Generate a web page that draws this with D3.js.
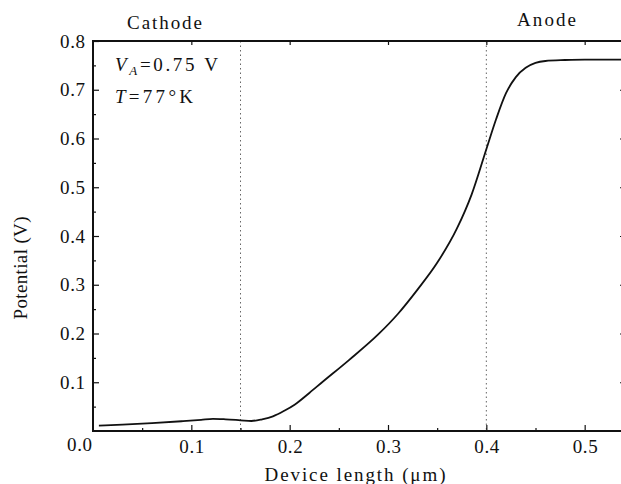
<!DOCTYPE html>
<html>
<head>
<meta charset="utf-8">
<script src="https://cdn.jsdelivr.net/npm/d3@7"></script>
<style>
  html, body { margin: 0; padding: 0; background: #fff; }
  svg { display: block; }
</style>
</head>
<body>
<div id="chart"></div>
<script>
// Potential along the device
const lengthUm = [0.006, 0.03, 0.06, 0.09, 0.11, 0.122, 0.135, 0.15, 0.161, 0.172, 0.183, 0.195, 0.205, 0.22, 0.233, 0.26, 0.29, 0.31, 0.33, 0.35, 0.37, 0.385, 0.40, 0.41, 0.42, 0.43, 0.44, 0.45, 0.46, 0.48, 0.50, 0.54];
const potentialV = [0.011, 0.013, 0.016, 0.020, 0.023, 0.025, 0.024, 0.022, 0.0205, 0.024, 0.030, 0.042, 0.054, 0.078, 0.100, 0.145, 0.198, 0.240, 0.290, 0.345, 0.415, 0.485, 0.578, 0.640, 0.693, 0.726, 0.745, 0.755, 0.759, 0.761, 0.762, 0.762];

const xTicks = [0.1, 0.2, 0.3, 0.4, 0.5];
const xMinor = [0.05, 0.15, 0.25, 0.35, 0.45];
const yTicks = [0.1, 0.2, 0.3, 0.4, 0.5, 0.6, 0.7, 0.8];
const yMinor = [0.05, 0.15, 0.25, 0.35, 0.45, 0.55, 0.65, 0.75];
const boundaries = [0.15, 0.4];   // cathode / anode edges

const W = 621, H = 484;
const mLeft = 93, mRight = 624, mTop = 41, mBottom = 431;

// pick an installed serif face (plain "serif" may fall back to a sans)
function pickFont(list) {
  const ctx = document.createElement("canvas").getContext("2d");
  const probe = "abcdefghijklmnopqrstuvwxyz0123456789";
  ctx.font = "40px monospace";
  const mono = ctx.measureText(probe).width;
  ctx.font = "40px sans-serif";
  const sans = ctx.measureText(probe).width;
  for (const f of list) {
    ctx.font = `40px "${f}", monospace`;
    const a = ctx.measureText(probe).width;
    ctx.font = `40px "${f}", sans-serif`;
    const b = ctx.measureText(probe).width;
    if (a !== mono || b !== sans) return `"${f}"`;
  }
  return "serif";
}
const serif = pickFont(["Liberation Serif", "Times New Roman", "DejaVu Serif", "Noto Serif", "FreeSerif", "Tinos"]);

const x = d3.scaleLinear().domain([0, 0.54]).range([mLeft, mRight]);
const y = d3.scaleLinear().domain([0, 0.8]).range([mBottom, mTop]);

const svg = d3.select("#chart").append("svg")
  .attr("width", W)
  .attr("height", H)
  .style("font-family", serif);

svg.append("rect").attr("width", W).attr("height", H).attr("fill", "#fff");

// dotted region boundaries
svg.selectAll(".bound")
  .data(boundaries)
  .join("line")
  .attr("x1", d => x(d)).attr("x2", d => x(d))
  .attr("y1", mTop).attr("y2", mBottom)
  .attr("stroke", "#666")
  .attr("stroke-width", 1)
  .attr("stroke-dasharray", "1.5,3");

const fontSize = 19;

// bottom axis
svg.append("g")
  .attr("transform", `translate(0,${mBottom})`)
  .call(d3.axisBottom(x).tickValues(xTicks).tickSize(-6).tickPadding(9).tickFormat(d3.format(".1f")));
svg.append("g")
  .attr("transform", `translate(0,${mBottom})`)
  .call(d3.axisBottom(x).tickValues(xMinor).tickSize(-3).tickFormat(""));

// top axis ticks
svg.append("g")
  .attr("transform", `translate(0,${mTop})`)
  .call(d3.axisTop(x).tickValues(xTicks).tickSize(-4).tickFormat(""));

// left axis
svg.append("g")
  .attr("transform", `translate(${mLeft},0)`)
  .call(d3.axisLeft(y).tickValues(yTicks).tickSize(-6).tickPadding(8).tickFormat(d3.format(".1f")));
svg.append("g")
  .attr("transform", `translate(${mLeft},0)`)
  .call(d3.axisLeft(y).tickValues(yMinor).tickSize(-3).tickFormat(""));

// right axis ticks
svg.append("g")
  .attr("transform", `translate(${mRight},0)`)
  .call(d3.axisRight(y).tickValues(yTicks).tickSize(-4).tickFormat(""));

svg.selectAll("g").attr("font-family", null).attr("font-size", null);
svg.selectAll(".domain").remove();
svg.selectAll(".tick line").attr("stroke", "#111").attr("stroke-width", 1.2);
svg.selectAll(".tick text")
  .attr("fill", "#111")
  .style("font-size", fontSize + "px")
  .attr("textLength", 25)
  .attr("lengthAdjust", "spacing");

// corner label for the origin
svg.append("text")
  .attr("x", mLeft - 1).attr("y", mBottom + 20)
  .attr("text-anchor", "end")
  .attr("fill", "#111")
  .style("font-size", fontSize + "px")
  .attr("textLength", 25)
  .attr("lengthAdjust", "spacing")
  .text("0.0");

// frame
svg.append("rect")
  .attr("x", mLeft).attr("y", mTop)
  .attr("width", mRight - mLeft).attr("height", mBottom - mTop)
  .attr("fill", "none")
  .attr("stroke", "#111")
  .attr("stroke-width", 2);

// potential curve
const pts = lengthUm.map((d, i) => [d, potentialV[i]]);
svg.append("path")
  .datum(pts)
  .attr("fill", "none")
  .attr("stroke", "#111")
  .attr("stroke-width", 1.8)
  .attr("d", d3.line().x(d => x(d[0])).y(d => y(d[1])).curve(d3.curveMonotoneX));

function label(px, py, str, len, anchor) {
  return svg.append("text")
    .attr("x", px).attr("y", py)
    .attr("text-anchor", anchor || "start")
    .attr("fill", "#111")
    .style("font-size", "19px")
    .attr("textLength", len)
    .attr("lengthAdjust", "spacing")
    .text(str);
}

// axis titles
label(355, 481, "Device length (\u03bcm)", 181, "middle");
label(0, 0, "Potential (V)", 103, "middle")
  .attr("x", null).attr("y", null)
  .attr("transform", "translate(27,268) rotate(-90)");

// region labels
label(127, 29, "Cathode", 75);
label(517, 26, "Anode", 59);

// conditions
const t1 = label(115, 71, "", 103);
t1.append("tspan").style("font-style", "italic").text("V");
t1.append("tspan").style("font-style", "italic").style("font-size", "13px").attr("dy", 4).text("A");
t1.append("tspan").attr("dy", -4).text("=0.75 V");

const t2 = label(115, 103, "", 78);
t2.append("tspan").style("font-style", "italic").text("T");
t2.append("tspan").text("=77\u00b0K");
</script>
</body>
</html>
